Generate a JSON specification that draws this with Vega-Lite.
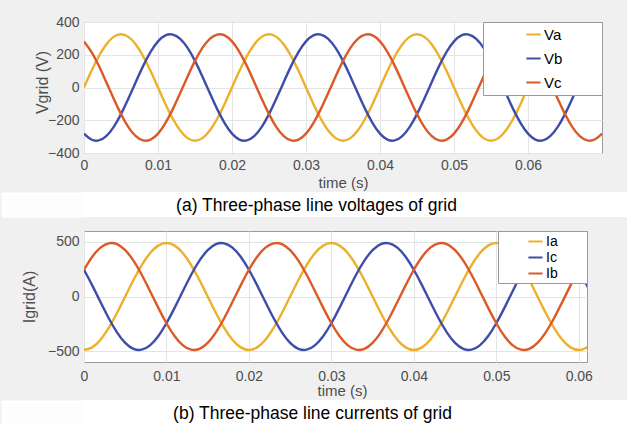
{
  "$schema": "https://vega.github.io/schema/vega-lite/v6.json",
  "background": "#f0f0f0",
  "padding": {"left": 0, "top": 14, "right": 0, "bottom": 0},
  "resolve": {"scale": {"color": "independent", "x": "independent", "y": "independent"}, "legend": {"color": "independent"}},
  "config": {
    "font": "Liberation Sans",
    "view": {"fill": "white", "stroke": "#9a9a9a", "strokeWidth": 1},
    "axis": {
      "labelFont": "Liberation Sans",
      "titleFont": "Liberation Sans",
      "labelFontSize": 14,
      "titleFontSize": 16,
      "titleFontWeight": "normal",
      "labelColor": "#4d4d4d",
      "titleColor": "#4d4d4d",
      "gridColor": "#e4e4e4",
      "grid": true,
      "domain": false
    },
    "axisX": {"ticks": false, "labelFlush": false, "labelOverlap": false, "titleFontSize": 15},
    "axisY": {"ticks": true, "tickColor": "transparent", "tickSize": 83, "labelPadding": -78, "titleAngle": 270, "titleBaseline": "bottom", "titleAlign": "center", "labelOverlap": false},
    "legend": {"symbolType": "stroke", "symbolStrokeWidth": 2, "symbolSize": 200, "labelColor": "black", "labelFont": "Liberation Sans", "fillColor": "white", "strokeColor": "#9a9a9a", "titleOrient": "right", "titleAngle": 0, "titleFontSize": 1, "labelOffset": 2}
  },
  "datasets": {
    "volt": [
      {"t": 0, "Va": 0, "Vb": -281.5, "Vc": 281.5},
      {"t": 0.001, "Va": 100.4, "Vb": -317.9, "Vc": 217.5},
      {"t": 0.002, "Va": 191, "Vb": -323.2, "Vc": 132.2},
      {"t": 0.003, "Va": 262.9, "Vb": -296.9, "Vc": 34},
      {"t": 0.004, "Va": 309.1, "Vb": -241.5, "Vc": -67.6},
      {"t": 0.005, "Va": 325, "Vb": -162.5, "Vc": -162.5},
      {"t": 0.006, "Va": 309.1, "Vb": -67.6, "Vc": -241.5},
      {"t": 0.007, "Va": 262.9, "Vb": 34, "Vc": -296.9},
      {"t": 0.008, "Va": 191, "Vb": 132.2, "Vc": -323.2},
      {"t": 0.009, "Va": 100.4, "Vb": 217.5, "Vc": -317.9},
      {"t": 0.010, "Va": 0, "Vb": 281.5, "Vc": -281.5},
      {"t": 0.011, "Va": -100.4, "Vb": 317.9, "Vc": -217.5},
      {"t": 0.012, "Va": -191, "Vb": 323.2, "Vc": -132.2},
      {"t": 0.013, "Va": -262.9, "Vb": 296.9, "Vc": -34},
      {"t": 0.014, "Va": -309.1, "Vb": 241.5, "Vc": 67.6},
      {"t": 0.015, "Va": -325, "Vb": 162.5, "Vc": 162.5},
      {"t": 0.016, "Va": -309.1, "Vb": 67.6, "Vc": 241.5},
      {"t": 0.017, "Va": -262.9, "Vb": -34, "Vc": 296.9},
      {"t": 0.018, "Va": -191, "Vb": -132.2, "Vc": 323.2},
      {"t": 0.019, "Va": -100.4, "Vb": -217.5, "Vc": 317.9},
      {"t": 0.020, "Va": 0, "Vb": -281.5, "Vc": 281.5},
      {"t": 0.021, "Va": 100.4, "Vb": -317.9, "Vc": 217.5},
      {"t": 0.022, "Va": 191, "Vb": -323.2, "Vc": 132.2},
      {"t": 0.023, "Va": 262.9, "Vb": -296.9, "Vc": 34},
      {"t": 0.024, "Va": 309.1, "Vb": -241.5, "Vc": -67.6},
      {"t": 0.025, "Va": 325, "Vb": -162.5, "Vc": -162.5},
      {"t": 0.026, "Va": 309.1, "Vb": -67.6, "Vc": -241.5},
      {"t": 0.027, "Va": 262.9, "Vb": 34, "Vc": -296.9},
      {"t": 0.028, "Va": 191, "Vb": 132.2, "Vc": -323.2},
      {"t": 0.029, "Va": 100.4, "Vb": 217.5, "Vc": -317.9},
      {"t": 0.030, "Va": 0, "Vb": 281.5, "Vc": -281.5},
      {"t": 0.031, "Va": -100.4, "Vb": 317.9, "Vc": -217.5},
      {"t": 0.032, "Va": -191, "Vb": 323.2, "Vc": -132.2},
      {"t": 0.033, "Va": -262.9, "Vb": 296.9, "Vc": -34},
      {"t": 0.034, "Va": -309.1, "Vb": 241.5, "Vc": 67.6},
      {"t": 0.035, "Va": -325, "Vb": 162.5, "Vc": 162.5},
      {"t": 0.036, "Va": -309.1, "Vb": 67.6, "Vc": 241.5},
      {"t": 0.037, "Va": -262.9, "Vb": -34, "Vc": 296.9},
      {"t": 0.038, "Va": -191, "Vb": -132.2, "Vc": 323.2},
      {"t": 0.039, "Va": -100.4, "Vb": -217.5, "Vc": 317.9},
      {"t": 0.040, "Va": 0, "Vb": -281.5, "Vc": 281.5},
      {"t": 0.041, "Va": 100.4, "Vb": -317.9, "Vc": 217.5},
      {"t": 0.042, "Va": 191, "Vb": -323.2, "Vc": 132.2},
      {"t": 0.043, "Va": 262.9, "Vb": -296.9, "Vc": 34},
      {"t": 0.044, "Va": 309.1, "Vb": -241.5, "Vc": -67.6},
      {"t": 0.045, "Va": 325, "Vb": -162.5, "Vc": -162.5},
      {"t": 0.046, "Va": 309.1, "Vb": -67.6, "Vc": -241.5},
      {"t": 0.047, "Va": 262.9, "Vb": 34, "Vc": -296.9},
      {"t": 0.048, "Va": 191, "Vb": 132.2, "Vc": -323.2},
      {"t": 0.049, "Va": 100.4, "Vb": 217.5, "Vc": -317.9},
      {"t": 0.050, "Va": 0, "Vb": 281.5, "Vc": -281.5},
      {"t": 0.051, "Va": -100.4, "Vb": 317.9, "Vc": -217.5},
      {"t": 0.052, "Va": -191, "Vb": 323.2, "Vc": -132.2},
      {"t": 0.053, "Va": -262.9, "Vb": 296.9, "Vc": -34},
      {"t": 0.054, "Va": -309.1, "Vb": 241.5, "Vc": 67.6},
      {"t": 0.055, "Va": -325, "Vb": 162.5, "Vc": 162.5},
      {"t": 0.056, "Va": -309.1, "Vb": 67.6, "Vc": 241.5},
      {"t": 0.057, "Va": -262.9, "Vb": -34, "Vc": 296.9},
      {"t": 0.058, "Va": -191, "Vb": -132.2, "Vc": 323.2},
      {"t": 0.059, "Va": -100.4, "Vb": -217.5, "Vc": 317.9},
      {"t": 0.060, "Va": 0, "Vb": -281.5, "Vc": 281.5},
      {"t": 0.061, "Va": 100.4, "Vb": -317.9, "Vc": 217.5},
      {"t": 0.062, "Va": 191, "Vb": -323.2, "Vc": 132.2},
      {"t": 0.063, "Va": 262.9, "Vb": -296.9, "Vc": 34},
      {"t": 0.064, "Va": 309.1, "Vb": -241.5, "Vc": -67.6},
      {"t": 0.065, "Va": 325, "Vb": -162.5, "Vc": -162.5},
      {"t": 0.066, "Va": 309.1, "Vb": -67.6, "Vc": -241.5},
      {"t": 0.067, "Va": 262.9, "Vb": 34, "Vc": -296.9},
      {"t": 0.068, "Va": 191, "Vb": 132.2, "Vc": -323.2},
      {"t": 0.069, "Va": 100.4, "Vb": 217.5, "Vc": -317.9},
      {"t": 0.070, "Va": 0, "Vb": 281.5, "Vc": -281.5}
    ],
    "curr": [
      {"t": 0, "Ia": -490, "Ib": 245, "Ic": 245},
      {"t": 0.001, "Ia": -466, "Ib": 364.1, "Ic": 101.9},
      {"t": 0.002, "Ia": -396.4, "Ib": 447.6, "Ic": -51.2},
      {"t": 0.003, "Ia": -288, "Ib": 487.3, "Ic": -199.3},
      {"t": 0.004, "Ia": -151.4, "Ib": 479.3, "Ic": -327.9},
      {"t": 0.005, "Ia": 0, "Ib": 424.4, "Ic": -424.4},
      {"t": 0.006, "Ia": 151.4, "Ib": 327.9, "Ic": -479.3},
      {"t": 0.007, "Ia": 288, "Ib": 199.3, "Ic": -487.3},
      {"t": 0.008, "Ia": 396.4, "Ib": 51.2, "Ic": -447.6},
      {"t": 0.009, "Ia": 466, "Ib": -101.9, "Ic": -364.1},
      {"t": 0.010, "Ia": 490, "Ib": -245, "Ic": -245},
      {"t": 0.011, "Ia": 466, "Ib": -364.1, "Ic": -101.9},
      {"t": 0.012, "Ia": 396.4, "Ib": -447.6, "Ic": 51.2},
      {"t": 0.013, "Ia": 288, "Ib": -487.3, "Ic": 199.3},
      {"t": 0.014, "Ia": 151.4, "Ib": -479.3, "Ic": 327.9},
      {"t": 0.015, "Ia": 0, "Ib": -424.4, "Ic": 424.4},
      {"t": 0.016, "Ia": -151.4, "Ib": -327.9, "Ic": 479.3},
      {"t": 0.017, "Ia": -288, "Ib": -199.3, "Ic": 487.3},
      {"t": 0.018, "Ia": -396.4, "Ib": -51.2, "Ic": 447.6},
      {"t": 0.019, "Ia": -466, "Ib": 101.9, "Ic": 364.1},
      {"t": 0.020, "Ia": -490, "Ib": 245, "Ic": 245},
      {"t": 0.021, "Ia": -466, "Ib": 364.1, "Ic": 101.9},
      {"t": 0.022, "Ia": -396.4, "Ib": 447.6, "Ic": -51.2},
      {"t": 0.023, "Ia": -288, "Ib": 487.3, "Ic": -199.3},
      {"t": 0.024, "Ia": -151.4, "Ib": 479.3, "Ic": -327.9},
      {"t": 0.025, "Ia": 0, "Ib": 424.4, "Ic": -424.4},
      {"t": 0.026, "Ia": 151.4, "Ib": 327.9, "Ic": -479.3},
      {"t": 0.027, "Ia": 288, "Ib": 199.3, "Ic": -487.3},
      {"t": 0.028, "Ia": 396.4, "Ib": 51.2, "Ic": -447.6},
      {"t": 0.029, "Ia": 466, "Ib": -101.9, "Ic": -364.1},
      {"t": 0.030, "Ia": 490, "Ib": -245, "Ic": -245},
      {"t": 0.031, "Ia": 466, "Ib": -364.1, "Ic": -101.9},
      {"t": 0.032, "Ia": 396.4, "Ib": -447.6, "Ic": 51.2},
      {"t": 0.033, "Ia": 288, "Ib": -487.3, "Ic": 199.3},
      {"t": 0.034, "Ia": 151.4, "Ib": -479.3, "Ic": 327.9},
      {"t": 0.035, "Ia": 0, "Ib": -424.4, "Ic": 424.4},
      {"t": 0.036, "Ia": -151.4, "Ib": -327.9, "Ic": 479.3},
      {"t": 0.037, "Ia": -288, "Ib": -199.3, "Ic": 487.3},
      {"t": 0.038, "Ia": -396.4, "Ib": -51.2, "Ic": 447.6},
      {"t": 0.039, "Ia": -466, "Ib": 101.9, "Ic": 364.1},
      {"t": 0.040, "Ia": -490, "Ib": 245, "Ic": 245},
      {"t": 0.041, "Ia": -466, "Ib": 364.1, "Ic": 101.9},
      {"t": 0.042, "Ia": -396.4, "Ib": 447.6, "Ic": -51.2},
      {"t": 0.043, "Ia": -288, "Ib": 487.3, "Ic": -199.3},
      {"t": 0.044, "Ia": -151.4, "Ib": 479.3, "Ic": -327.9},
      {"t": 0.045, "Ia": 0, "Ib": 424.4, "Ic": -424.4},
      {"t": 0.046, "Ia": 151.4, "Ib": 327.9, "Ic": -479.3},
      {"t": 0.047, "Ia": 288, "Ib": 199.3, "Ic": -487.3},
      {"t": 0.048, "Ia": 396.4, "Ib": 51.2, "Ic": -447.6},
      {"t": 0.049, "Ia": 466, "Ib": -101.9, "Ic": -364.1},
      {"t": 0.050, "Ia": 490, "Ib": -245, "Ic": -245},
      {"t": 0.051, "Ia": 466, "Ib": -364.1, "Ic": -101.9},
      {"t": 0.052, "Ia": 396.4, "Ib": -447.6, "Ic": 51.2},
      {"t": 0.053, "Ia": 288, "Ib": -487.3, "Ic": 199.3},
      {"t": 0.054, "Ia": 151.4, "Ib": -479.3, "Ic": 327.9},
      {"t": 0.055, "Ia": 0, "Ib": -424.4, "Ic": 424.4},
      {"t": 0.056, "Ia": -151.4, "Ib": -327.9, "Ic": 479.3},
      {"t": 0.057, "Ia": -288, "Ib": -199.3, "Ic": 487.3},
      {"t": 0.058, "Ia": -396.4, "Ib": -51.2, "Ic": 447.6},
      {"t": 0.059, "Ia": -466, "Ib": 101.9, "Ic": 364.1},
      {"t": 0.060, "Ia": -490, "Ib": 245, "Ic": 245},
      {"t": 0.061, "Ia": -466, "Ib": 364.1, "Ic": 101.9},
      {"t": 0.062, "Ia": -396.4, "Ib": 447.6, "Ic": -51.2}
    ]
  },
  "columns": 1,
  "spacing": 0,
  "concat": [
    {
      "width": 518,
      "height": 131,
      "data": {"name": "volt"},
      "transform": [{"fold": ["Va", "Vb", "Vc"], "as": ["phase", "v"]}],
      "mark": {"type": "line", "interpolate": "natural", "strokeWidth": 2.4, "clip": true},
      "encoding": {
        "x": {"field": "t", "type": "quantitative", "scale": {"domain": [0, 0.07], "nice": false},
              "axis": {"title": "time (s)", "values": [0, 0.01, 0.02, 0.03, 0.04, 0.05, 0.06], "format": ".2~f", "labelPadding": 5.5, "titlePadding": 2.5}},
        "y": {"field": "v", "type": "quantitative", "scale": {"domain": [-400, 400], "nice": false},
              "axis": {"title": "Vgrid (V)", "values": [-400, -200, 0, 200, 400], "titleX": -34, "titleY": 60}},
        "color": {"field": "phase", "type": "nominal",
                  "scale": {"domain": ["Va", "Vb", "Vc"], "range": ["#ECB02A", "#3E4EA8", "#DB5A28"]},
                  "legend": {"orient": "top-right", "offset": 0, "title": " ", "titlePadding": 36, "padding": 4, "symbolOffset": 38, "labelFontSize": 15, "rowPadding": 7}}
      }
    },
    {
      "width": 543,
      "height": 25,
      "view": {"stroke": null, "fill": "white"},
      "data": {"values": [{"caption": "(a) Three-phase line voltages of grid"}]},
      "mark": {"type": "text", "fontSize": 17.5, "color": "black", "font": "Liberation Sans", "dx": -39, "dy": 1},
      "encoding": {
        "text": {"field": "caption", "type": "nominal"},
        "y": {"datum": 12.5, "type": "quantitative", "scale": {"domain": [0, 25], "nice": false, "zero": false},
              "axis": {"title": null, "labels": false, "grid": false, "domain": false, "ticks": true, "tickColor": "white", "tickWidth": 2.2, "tickSize": 82, "tickCap": "square",
                       "values": [1, 3, 5, 7, 9, 11, 13, 15, 17, 19, 21, 23, 24]}}
      }
    },
    {
      "width": 503,
      "height": 131,
      "title": {"text": " ", "fontSize": 10, "offset": 2},
      "data": {"name": "curr"},
      "transform": [{"fold": ["Ia", "Ic", "Ib"], "as": ["phase", "i"]}],
      "mark": {"type": "line", "interpolate": "natural", "strokeWidth": 2.4, "clip": true},
      "encoding": {
        "x": {"field": "t", "type": "quantitative", "scale": {"domain": [0, 0.061], "nice": false},
              "axis": {"title": "time (s)", "values": [0, 0.01, 0.02, 0.03, 0.04, 0.05, 0.06], "format": ".2~f", "labelPadding": 7, "titlePadding": 0.5, "titleX": 258}},
        "y": {"field": "i", "type": "quantitative", "scale": {"domain": [-600, 600], "nice": false},
              "axis": {"title": "Igrid(A)", "values": [-500, 0, 500], "titleX": -47}},
        "color": {"field": "phase", "type": "nominal",
                  "scale": {"domain": ["Ia", "Ic", "Ib"], "range": ["#ECB02A", "#3E4EA8", "#DB5A28"]},
                  "legend": {"orient": "top-right", "offset": 0, "title": " ", "titlePadding": 27, "padding": 2, "symbolOffset": 27, "labelFontSize": 14, "rowPadding": -0.4}}
      }
    },
    {
      "width": 543,
      "height": 27,
      "view": {"stroke": null, "fill": "white"},
      "data": {"values": [{"caption": "(b) Three-phase line currents of grid"}]},
      "mark": {"type": "text", "fontSize": 17.5, "color": "black", "font": "Liberation Sans", "dx": -43, "dy": 0},
      "encoding": {
        "text": {"field": "caption", "type": "nominal"},
        "y": {"datum": 13.5, "type": "quantitative", "scale": {"domain": [0, 27], "nice": false, "zero": false},
              "axis": {"title": null, "labels": false, "grid": false, "domain": false, "ticks": true, "tickColor": "white", "tickWidth": 2.2, "tickSize": 82, "tickCap": "square",
                       "values": [1, 3, 5, 7, 9, 11, 13, 15, 17, 19, 21, 23, 25, 26]}}
      }
    }
  ]
}
